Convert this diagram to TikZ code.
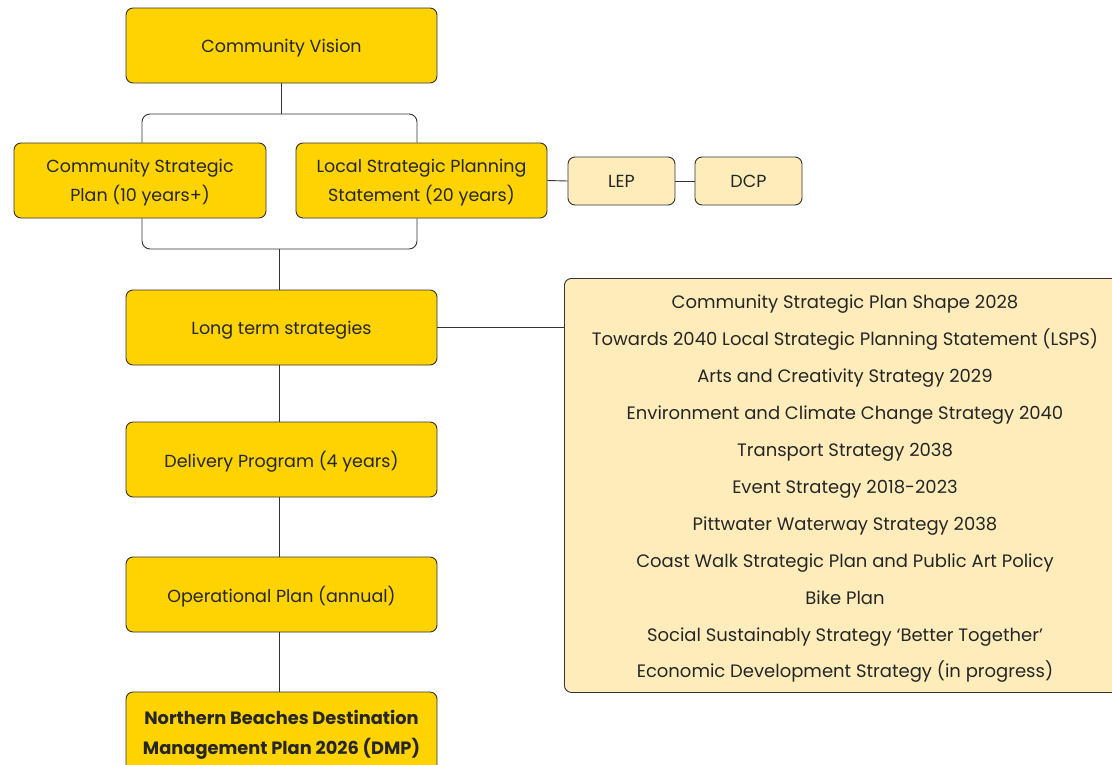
\documentclass[tikz,border=0pt]{standalone}
\usepackage{fontspec}
\setmainfont{Poppins}
\definecolor{gold}{HTML}{FED300}
\definecolor{pale}{HTML}{FEEDBB}
\definecolor{edge}{HTML}{333333}
\definecolor{ink}{HTML}{262626}
\begin{document}
\begin{tikzpicture}[x=1pt,y=-1pt,
  every node/.style={text=ink,font=\fontsize{17.5}{29}\selectfont},
  mainbox/.style={draw=edge,line width=0.9pt,fill=gold,rounded corners=7pt,align=center,inner sep=0pt,text depth=0pt},
  subbox/.style={draw=edge,line width=0.9pt,fill=pale,rounded corners=7pt,align=center,inner sep=0pt},
  link/.style={draw=edge,line width=0.9pt},
  elbow/.style={draw=edge,line width=0.9pt,rounded corners=8pt}]
\useasboundingbox (0,0) rectangle (1112,764);
\clip (0,0) rectangle (1112,764);
\fill[white] (0,0) rectangle (1112,764);

\node[mainbox,minimum width=311pt,minimum height=75pt] (cv) at (281.5,45.5) {Community Vision};
\node[mainbox,minimum width=252pt,minimum height=75pt] (csp) at (140,180.5) {Community Strategic\\Plan (10 years+)};
\node[mainbox,minimum width=251pt,minimum height=75pt] (lsps) at (421.5,180.5) {Local Strategic Planning\\Statement (20 years)};
\node[subbox,minimum width=107pt,minimum height=48pt] (lep) at (621.5,181) {LEP};
\node[subbox,minimum width=107pt,minimum height=48pt] (dcp) at (748.5,181) {DCP};
\node[mainbox,minimum width=311pt,minimum height=75pt] (lts) at (281.5,327.5) {Long term strategies};
\node[mainbox,minimum width=311pt,minimum height=75pt] (dp) at (281.5,459.5) {Delivery Program (4 years)};
\node[mainbox,minimum width=311pt,minimum height=75pt] (op) at (281.5,594.5) {Operational Plan (annual)};
\node[mainbox,minimum width=311pt,minimum height=80pt,font=\bfseries\fontsize{17.8}{30}\selectfont] (dmp) at (281.5,732) {Northern Beaches Destination\\Management Plan 2026 (DMP)};

\node[subbox,minimum width=560pt,minimum height=414pt,anchor=north west] (list) at (564,278) {};
\node[font=\fontsize{18}{36.9}\selectfont,align=center,anchor=north,inner sep=0pt] (items) at (845,295) {Community Strategic Plan Shape 2028\\
Towards 2040 Local Strategic Planning Statement (LSPS)\\
Arts and Creativity Strategy 2029\\
Environment and Climate Change Strategy 2040\\
Transport Strategy 2038\\
Event Strategy 2018-2023\\
Pittwater Waterway Strategy 2038\\
Coast Walk Strategic Plan and Public Art Policy\\
Bike Plan\\
Social Sustainably Strategy ‘Better Together’\\
Economic Development Strategy (in progress)};

\coordinate (jt) at (281.5,114);
\coordinate (jb) at (279,249);
\path[link] (cv.south) -- (jt);
\path[elbow] (csp.north -| 142,0) |- (jt) -| (lsps.north -| 417,0);
\path[elbow] (csp.south -| 142,0) |- (jb) -| (lsps.south -| 417,0);
\path[link] (jb) -- (lts.north -| jb);
\path[link] (lsps.east) -- (lep.west);
\path[link] (lep.east) -- (dcp.west);
\path[link] (lts.east) -- (list.west |- lts.east);
\path[link] (lts.south -| jb) -- (dp.north -| jb);
\path[link] (dp.south -| jb) -- (op.north -| jb);
\path[link] (op.south -| jb) -- (dmp.north -| jb);
\end{tikzpicture}
\end{document}
